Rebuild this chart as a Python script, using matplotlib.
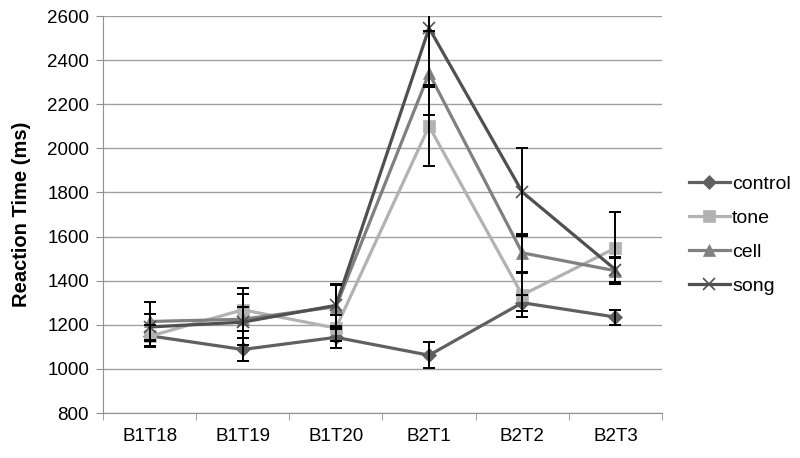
import matplotlib
matplotlib.use("Agg")
import matplotlib.pyplot as plt
import numpy as np

plt.rcParams['font.family'] = ['Liberation Sans', 'DejaVu Sans']

categories = ["B1T18", "B1T19", "B1T20", "B2T1", "B2T2", "B2T3"]
control = [1150, 1088, 1143, 1062, 1300, 1235]
tone = [1148, 1268, 1185, 2100, 1335, 1548]
cell = [1215, 1225, 1282, 2340, 1526, 1445]
song = [1190, 1212, 1288, 2545, 1802, 1450]

control_err = [48, 50, 48, 60, 37, 34]
tone_err = [50, 97, 60, 180, 100, 165]
cell_err = [88, 115, 100, 190, 85, 60]
song_err = [60, 70, 95, 260, 200, 58]

series = [
    ("control", control, control_err, "#606060", "D", 7),
    ("tone", tone, tone_err, "#b2b2b2", "s", 8),
    ("cell", cell, cell_err, "#808080", "^", 8.5),
    ("song", song, song_err, "#505050", "x", 9),
]

FS = 13.5

fig = plt.figure(figsize=(8, 4.58), dpi=100)
ax = fig.add_axes([103/800, 1-413/458, (662-103)/800, (413-16)/458])

x = np.arange(len(categories))
for name, vals, err, col, mk, ms in series:
    ax.plot(x, vals, color=col, lw=2.3, marker=mk, markersize=ms,
            markerfacecolor=col, markeredgecolor=col,
            markeredgewidth=1.2 if mk == "x" else 0.5, label=name, zorder=3)
for name, vals, err, col, mk, ms in series:
    ax.errorbar(x, vals, yerr=err, fmt="none", ecolor="black", elinewidth=1.4,
                capsize=4, capthick=1.4, zorder=4)

ax.set_xlim(-0.5, len(categories) - 0.5)
ax.set_ylim(800, 2600)
ax.set_yticks(np.arange(800, 2601, 200))
ax.set_xticks(x)
ax.set_xticklabels(categories)
ax.set_xticks(np.arange(-0.5, len(categories), 1), minor=True)
ax.tick_params(axis="x", which="major", length=0, pad=11, labelsize=FS)
ax.tick_params(axis="x", which="minor", length=5, color="#909090")
ax.tick_params(axis="y", length=5, color="#909090", labelsize=FS, pad=5)
ax.grid(axis="y", color="#a0a0a0", lw=1.0, zorder=0)
ax.set_axisbelow(True)
for s in ["top", "right"]:
    ax.spines[s].set_visible(False)
ax.spines["left"].set_color("#909090")
ax.spines["bottom"].set_color("#909090")
ax.set_ylabel("Reaction Time (ms)", fontsize=14.5, fontweight="bold")
ax.yaxis.set_label_coords(-(103 - 31) / 559, 0.5)

leg = fig.legend(loc="center left", bbox_to_anchor=(689/800, 1-235/458),
                 frameon=False, fontsize=14, handlelength=2.1, borderpad=0,
                 borderaxespad=0, handletextpad=0.12, labelspacing=0.85)

fig.savefig("out.png", dpi=100)
